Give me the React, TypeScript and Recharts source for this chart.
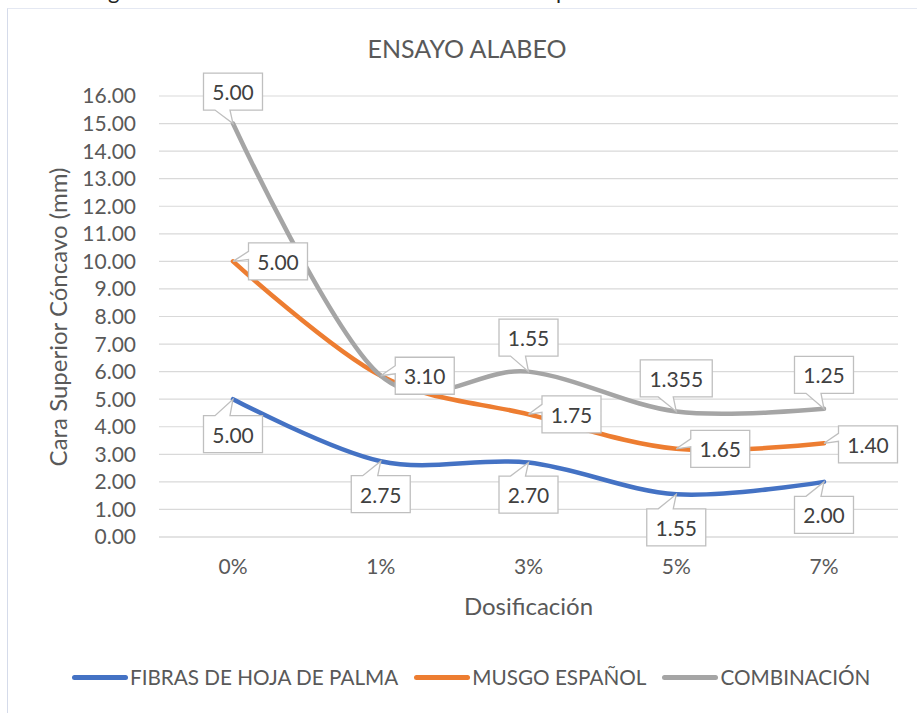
import React from 'react';
import { AreaChart, Area, XAxis, YAxis, CartesianGrid, LabelList } from 'recharts';

const categories = ['0%', '1%', '3%', '5%', '7%'];
const fibras = [5.0, 2.75, 2.7, 1.55, 2.0];
const musgo = [5.0, 3.1, 1.75, 1.65, 1.4];
const combinacion = [5.0, 0, 1.55, 1.355, 1.25];
const yTicks = [0, 1, 2, 3, 4, 5, 6, 7, 8, 9, 10, 11, 12, 13, 14, 15, 16];
const seriesNames = ['FIBRAS DE HOJA DE PALMA', 'MUSGO ESPAÑOL', 'COMBINACIÓN'];
const chartTitle = 'ENSAYO ALABEO';
const xTitle = 'Dosificación';
const yTitle = 'Cara Superior Cóncavo (mm)';

const COLORS = ['#4472C4', '#ED7D31', '#A5A5A5'];
const FONT = 'Lato, "Noto Sans", sans-serif';
const TEXT = '#595959';

const data = categories.map((c, i) => ({
  cat: c,
  fibras: fibras[i],
  musgo: musgo[i],
  combinacion: combinacion[i],
}));

const seriesValues = [fibras, musgo, combinacion];

// label box offsets (center relative to the data point) per series
const labelOffsets: [number, number][][] = [
  [[0, 35], [0, 33], [0, 32], [0, 33], [0, 33]],
  [[45, 0], [44, 0], [43, 0], [44, 0], [44, 1]],
  [[0, -32], [0, -33], [0, -34], [0, -33], [0, -34]],
];

// Catmull-Rom like cardinal spline (Excel "smoothed line")
const cardinal = (context: any) => {
  const k = 1 / 6;
  let x0 = NaN, y0 = NaN, x1 = NaN, y1 = NaN, x2 = NaN, y2 = NaN, pt = 0, line: number = NaN;
  const seg = (x: number, y: number) => {
    context.bezierCurveTo(
      x1 + k * (x2 - x0), y1 + k * (y2 - y0),
      x2 + k * (x1 - x), y2 + k * (y1 - y),
      x2, y2
    );
  };
  return {
    areaStart() { line = 0; },
    areaEnd() { line = NaN; },
    lineStart() { x0 = x1 = x2 = y0 = y1 = y2 = NaN; pt = 0; },
    lineEnd() {
      switch (pt) {
        case 2: context.lineTo(x2, y2); break;
        case 3: seg(x1, y1); break;
      }
      if (line || (line !== 0 && pt === 1)) context.closePath();
      line = 1 - line;
    },
    point(x: number, y: number) {
      x = +x; y = +y;
      switch (pt) {
        case 0: pt = 1; line ? context.lineTo(x, y) : context.moveTo(x, y); break;
        case 1: pt = 2; x1 = x; y1 = y; break;
        case 2: pt = 3; seg(x, y); break;
        default: seg(x, y); break;
      }
      x0 = x1; x1 = x2; x2 = x;
      y0 = y1; y1 = y2; y2 = y;
    },
  };
};

const fmt = (v: number) => (Math.round(v * 100) === v * 100 ? v.toFixed(2) : v.toFixed(3));
const clamp = (v: number, a: number, b: number) => Math.max(a, Math.min(b, v));

const Callout = (props: any) => {
  const { x, y, index, series } = props;
  const v = seriesValues[series][index];
  if (v === 0 || x == null || y == null) return null;
  const text = fmt(v);
  const [dx, dy] = labelOffsets[series][index];
  const w = text.length > 4 ? 72 : 59;
  const h = 37;
  const cx = x + dx;
  const cy = y + dy;
  const L = cx - w / 2, R = cx + w / 2, T = cy - h / 2, B = cy + h / 2;
  let d = '';
  if (y > B) {
    const p = clamp(x, L + 19, R - 3);
    d = `M${L},${T}H${R}V${B}H${p - 3}L${x},${y}L${p - 18},${B}H${L}Z`;
  } else if (y < T) {
    const p = clamp(x, L + 19, R - 3);
    d = `M${L},${T}H${p - 18}L${x},${y}L${p - 3},${T}H${R}V${B}H${L}Z`;
  } else {
    const q = clamp(y, T + 12, B - 4);
    d = `M${L},${T}H${R}V${B}H${L}V${q - 2}L${x},${y}L${L},${q - 10}Z`;
  }
  return (
    <g>
      <path d={d} fill="#FFFFFF" stroke="#BFBFBF" strokeWidth={1.3} />
      <text
        x={cx}
        y={cy}
        textAnchor="middle"
        dominantBaseline="central"
        fontFamily={FONT}
        fontSize={21}
        fill="#404040"
      >
        {text}
      </text>
    </g>
  );
};

const keys = ['fibras', 'musgo', 'combinacion'];

export default function App() {
  return (
    <div style={{ position: 'absolute', left: 0, top: 0, width: 917, height: 713, background: '#fff', overflow: 'hidden' }}>
      <svg style={{ position: 'absolute', left: 0, top: 0 }} width={917} height={20}>
        <text x={108} y={-1} fontFamily={FONT} fontSize={22} fill="#222">g</text>
        <text x={556} y={-1} fontFamily={FONT} fontSize={22} fill="#222">p</text>
      </svg>
      <div
        style={{
          position: 'absolute',
          left: 7,
          top: 8,
          width: 917,
          height: 713,
          borderLeft: '1.5px solid #D5DBEA',
          borderTop: '1.5px solid #E4E8F2',
        }}
      />
      <div
        style={{
          position: 'absolute',
          left: 0,
          width: 934,
          top: 33,
          textAlign: 'center',
          fontFamily: FONT,
          fontSize: 25,
          color: TEXT,
          lineHeight: '30px',
        }}
      >
        {chartTitle}
      </div>
      <div
        style={{
          position: 'absolute',
          left: 58,
          top: 317,
          transform: 'translate(-50%, -50%) rotate(-90deg)',
          fontFamily: FONT,
          fontSize: 24,
          color: TEXT,
          whiteSpace: 'nowrap',
          lineHeight: '28px',
        }}
      >
        {yTitle}
      </div>
      <div
        style={{
          position: 'absolute',
          left: 0,
          width: 1057,
          top: 591,
          textAlign: 'center',
          fontFamily: FONT,
          fontSize: 24,
          color: TEXT,
          lineHeight: '30px',
        }}
      >
        {xTitle}
      </div>
      <div style={{ position: 'absolute', left: 0, top: 0 }}>
        <AreaChart
          width={917}
          height={713}
          data={data}
          margin={{ top: 96, right: 19, bottom: 146, left: 0 }}
        >
          <CartesianGrid vertical={false} stroke="#D9D9D9" strokeWidth={1.2} />
          <XAxis
            dataKey="cat"
            height={30}
            padding={{ left: 74, right: 74 }}
            axisLine={{ stroke: '#D9D9D9', strokeWidth: 1.2 }}
            tickLine={false}
            tickSize={0}
            tickMargin={22}
            tick={{ fontFamily: FONT, fontSize: 21, fill: TEXT }}
            interval={0}
          />
          <YAxis
            width={159}
            domain={[0, 16]}
            ticks={yTicks}
            interval={0}
            axisLine={false}
            tickLine={false}
            tickSize={0}
            tickMargin={23}
            tickFormatter={(v: number) => v.toFixed(2)}
            tick={{ fontFamily: FONT, fontSize: 21, fill: TEXT }}
          />
          {keys.map((k, i) => (
            <Area
              key={k}
              dataKey={k}
              stackId="vis"
              type={cardinal as any}
              stroke={COLORS[i]}
              strokeWidth={4.5}
              strokeLinecap="round"
              strokeLinejoin="round"
              fill="none"
              fillOpacity={0}
              dot={false}
              activeDot={false}
              isAnimationActive={false}
              legendType="none"
            />
          ))}
          {keys.map((k, i) => (
            <Area
              key={'lbl-' + k}
              dataKey={k}
              stackId="lbl"
              type={cardinal as any}
              stroke="none"
              fill="none"
              fillOpacity={0}
              dot={false}
              activeDot={false}
              isAnimationActive={false}
              legendType="none"
            >
              <LabelList dataKey={k} content={(p: any) => <Callout {...p} series={i} />} />
            </Area>
          ))}
        </AreaChart>
      </div>
      <div
        style={{
          position: 'absolute',
          left: 72,
          top: 664,
          display: 'flex',
          alignItems: 'center',
          fontFamily: FONT,
          fontSize: 20.7,
          color: TEXT,
          whiteSpace: 'nowrap',
          lineHeight: '26px',
        }}
      >
        {seriesNames.map((n, i) => (
          <div key={n} style={{ display: 'flex', alignItems: 'center', marginRight: 16 }}>
            <div style={{ width: 56, height: 5, borderRadius: 3, background: COLORS[i], marginRight: 2 }} />
            <span>{n}</span>
          </div>
        ))}
      </div>
    </div>
  );
}
